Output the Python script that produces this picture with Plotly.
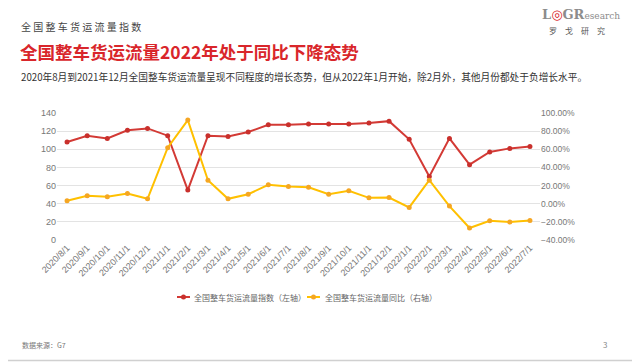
import plotly.graph_objects as go

categories = ["2020/8/1", "2020/9/1", "2020/10/1", "2020/11/1", "2020/12/1",
              "2021/1/1", "2021/2/1", "2021/3/1", "2021/4/1", "2021/5/1",
              "2021/6/1", "2021/7/1", "2021/8/1", "2021/9/1", "2021/10/1",
              "2021/11/1", "2021/12/1", "2022/1/1", "2022/2/1", "2022/3/1",
              "2022/4/1", "2022/5/1", "2022/6/1", "2022/7/1"]
index_values = [108, 115, 112, 121, 123, 115, 55, 115, 114, 119, 127, 127,
                128, 128, 128, 129, 131, 111, 70, 112, 83, 97, 101, 103]
yoy_values = [0.032, 0.087, 0.076, 0.113, 0.054, 0.618, 0.922, 0.259, 0.054,
              0.105, 0.208, 0.190, 0.182, 0.105, 0.142, 0.065, 0.068, -0.041,
              0.259, -0.026, -0.268, -0.188, -0.202, -0.184]
series_names = ["全国整车货运流量指数（左轴）", "全国整车货运流量同比（右轴）"]
line_colors = ["#d33a35", "#ffc000"]
marker_colors = ["#c9302c", "#f5a623"]

FONT = "Noto Sans CJK SC, Noto Sans, sans-serif"
NUM = "Liberation Sans, Arial, sans-serif"
# screen-pixel geometry of the plot area
L, R, T, B = 57, 540, 113, 240
SW, SH = 640, 362
OFF = 8  # default page body margin
W, H = SW - OFF, SH - OFF


def px(x):
    return (x - L) / (R - L)


def py(y):
    return (B - y) / (B - T)


fig = go.Figure()
fig.add_trace(go.Scatter(
    x=categories, y=index_values, name=series_names[0], mode="lines+markers",
    line=dict(color=line_colors[0], width=2),
    marker=dict(color=marker_colors[0], size=5), yaxis="y"))
fig.add_trace(go.Scatter(
    x=categories, y=yoy_values, name=series_names[1], mode="lines+markers",
    line=dict(color=line_colors[1], width=2),
    marker=dict(color=marker_colors[1], size=5), yaxis="y2"))


def ann(x, y, text, size, color, family=FONT, xanchor="left"):
    return dict(x=px(x), y=py(y), xref="paper", yref="paper", text=text,
                showarrow=False, xanchor=xanchor, yanchor="middle",
                font=dict(family=family, size=size, color=color))


annotations = [
    ann(19, 26, "全 国 整 车 货 运 流 量 指 数", 10, "#444444"),
    ann(18, 51, "<b>全国整车货运流量2022年处于同比下降态势</b>", 17.5, "#d9262b"),
    ann(19, 77, "2020年8月到2021年12月全国整车货运流量呈现不同程度的增长态势，但从2022年1月开始，除2月外，其他月份都处于负增长水平。",
        9.7, "#333333"),
    ann(540, 14, "<b>L<span style='color:#d9262b'>◎</span>GR</b><span style='font-size:9px'>esearch</span>",
        13, "#8c8c8c", family="DejaVu Serif, serif"),
    ann(547, 30, "罗　戈　研　究", 8, "#555555"),
    ann(20, 345, "数据来源：G7", 7, "#777777"),
    ann(605, 344, "3", 8, "#888888", xanchor="center"),
]

# compact legend (line swatch + dot + label)
LEG_Y = 297
leg_items = [(177, 192), (307, 323)]
shapes = []
for (sx, tx), name, lc, mc in zip(leg_items, series_names, line_colors, marker_colors):
    shapes.append(dict(type="line", xref="paper", yref="paper",
                       x0=px(sx), x1=px(sx + 13), y0=py(LEG_Y), y1=py(LEG_Y),
                       line=dict(color=lc, width=2)))
    shapes.append(dict(type="circle", xref="paper", yref="paper",
                       xsizemode="pixel", ysizemode="pixel",
                       xanchor=px(sx + 6.5), yanchor=py(LEG_Y),
                       x0=-2.5, x1=2.5, y0=-2.5, y1=2.5,
                       fillcolor=mc, line=dict(width=0)))
    annotations.append(ann(tx, LEG_Y, name, 8, "#666666"))

shapes.append(dict(type="line", xref="paper", yref="paper", x0=px(0), x1=px(640),
                   y0=py(360.5), y1=py(360.5), line=dict(color="#d0d0d0", width=1.5)))

fig.update_layout(
    width=W, height=H,
    margin=dict(l=L - OFF, r=W - (R - OFF), t=T - OFF, b=H - (B - OFF),
                autoexpand=False),
    paper_bgcolor="white", plot_bgcolor="white",
    font=dict(family=FONT, size=9, color="#777777"),
    showlegend=False,
    xaxis=dict(type="category", range=[-0.5, 23.5], tickangle=-45,
               showgrid=False, showline=False, ticks="", zeroline=False,
               automargin=False,
               tickfont=dict(family=NUM, size=9, color="#777777")),
    yaxis=dict(range=[0, 140], dtick=20, showgrid=True, gridcolor="#e3e3e3",
               gridwidth=1, zeroline=False, showline=False, ticks="",
               automargin=False,
               tickfont=dict(family=NUM, size=9, color="#777777")),
    yaxis2=dict(range=[-0.4, 1.0], dtick=0.2, tickformat=".2%", overlaying="y",
                side="right", showgrid=False, zeroline=False, showline=False,
                ticks="", automargin=False,
                tickfont=dict(family=NUM, size=8.5, color="#777777")),
    annotations=annotations,
    shapes=shapes,
)

fig.write_html("out.html")
